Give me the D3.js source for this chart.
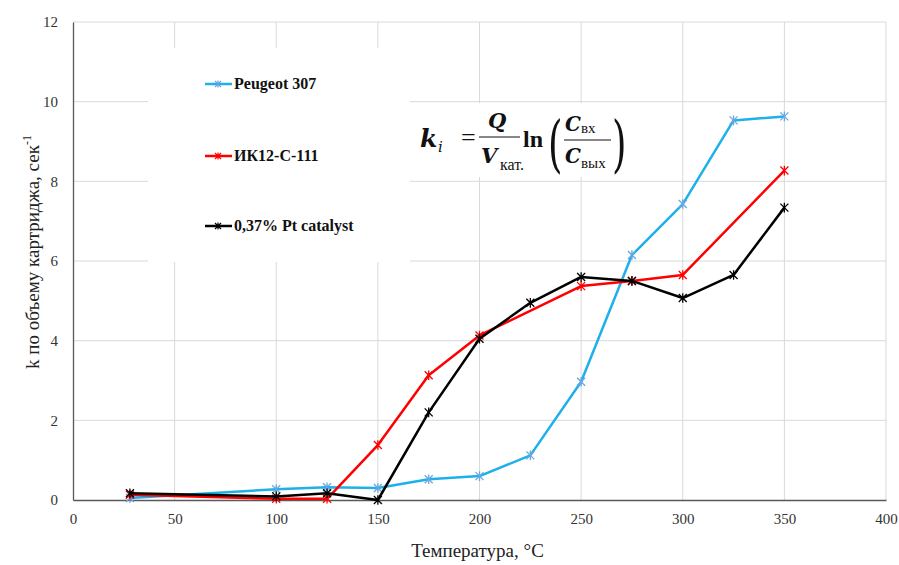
<!DOCTYPE html>
<html>
<head>
<meta charset="utf-8">
<script src="https://cdn.jsdelivr.net/npm/d3@7"></script>
<style>
  body { margin: 0; background: #fff; }
  svg { display: block; }
</style>
</head>
<body>
<svg id="chart"></svg>
<script>
// data
let temps = [28, 100, 125, 150, 175, 200, 225, 250, 275, 300, 325, 350]
let peugeot = [0.05, 0.27, 0.32, 0.3, 0.52, 0.6, 1.12, 2.97, 6.15, 7.43, 9.53, 9.63]
let redTemps = [28, 100, 125, 150, 175, 200, 250, 275, 300, 350]
let ik12 = [0.13, 0.03, 0.03, 1.38, 3.13, 4.13, 5.37, 5.5, 5.65, 8.27]
let platinum = [0.17, 0.09, 0.17, 0.0, 2.2, 4.05, 4.95, 5.6, 5.5, 5.07, 5.65, 7.34]
let xTicks = [0, 50, 100, 150, 200, 250, 300, 350, 400]
let yTicks = [0, 2, 4, 6, 8, 10, 12]
let seriesNames = ['Peugeot 307', 'ИК12-С-111', '0,37% Pt catalyst']

let width = 899
let height = 565
let plotLeft = 73, plotRight = 886, plotTop = 22, plotBottom = 500
let serif = "'Liberation Serif', 'Times New Roman', Times, 'DejaVu Serif', serif"

let series = [
  { name: seriesNames[0], xs: temps, ys: peugeot, line: '#1eb0ea', mark: '#6aa6e0' },
  { name: seriesNames[1], xs: redTemps, ys: ik12, line: '#ff0000', mark: '#ff0000' },
  { name: seriesNames[2], xs: temps, ys: platinum, line: '#000000', mark: '#000000' }
]

let svg = d3.select('#chart').attr('width', width).attr('height', height)
  .attr('font-family', serif)

let xScale = d3.scaleLinear().domain([0, 400]).range([plotLeft, plotRight])
let yScale = d3.scaleLinear().domain([0, 12]).range([plotBottom, plotTop])

// gridlines
svg.append('g').selectAll('line')
  .data(yTicks.filter(d => d > 0))
  .enter().append('line')
  .attr('x1', plotLeft).attr('x2', plotRight)
  .attr('y1', d => yScale(d)).attr('y2', d => yScale(d))
  .attr('stroke', '#d9d9d9').attr('stroke-width', 1)

svg.append('g').selectAll('line')
  .data(xTicks.filter(d => d > 0))
  .enter().append('line')
  .attr('x1', d => xScale(d)).attr('x2', d => xScale(d))
  .attr('y1', plotTop).attr('y2', plotBottom)
  .attr('stroke', '#d9d9d9').attr('stroke-width', 1)

// white boxes behind legend and formula
svg.append('rect').attr('x', 148).attr('y', 48).attr('width', 262).attr('height', 214).attr('fill', '#fff')
svg.append('rect').attr('x', 410).attr('y', 103).attr('width', 230).attr('height', 74).attr('fill', '#fff')

// axes
let xAxis = d3.axisBottom(xScale).tickValues(xTicks).tickSize(0).tickPadding(13)
let yAxis = d3.axisLeft(yScale).tickValues(yTicks).tickSize(0).tickPadding(15)

let gx = svg.append('g').attr('transform', 'translate(0,' + plotBottom + ')').call(xAxis)
let gy = svg.append('g').attr('transform', 'translate(' + plotLeft + ',0)').call(yAxis)

gx.select('.domain').attr('stroke', '#595959').attr('stroke-width', 1.3)
gy.select('.domain').attr('stroke', '#595959').attr('stroke-width', 1.3)
gx.attr('font-family', serif).attr('font-size', 15)
gy.attr('font-family', serif).attr('font-size', 15)
gx.selectAll('text').attr('fill', '#333')
gy.selectAll('text').attr('fill', '#333')

// axis titles
svg.append('text')
  .attr('x', (plotLeft + plotRight) / 2 - 2).attr('y', 557)
  .attr('text-anchor', 'middle').attr('font-size', 19).attr('fill', '#222')
  .text('Температура, °C')

let yt = svg.append('text')
  .attr('transform', 'translate(39,252) rotate(-90)')
  .attr('text-anchor', 'middle').attr('font-size', 19).attr('fill', '#222')
yt.append('tspan').text('k по объему картриджа, сек')
yt.append('tspan').attr('font-size', 12).attr('dy', -8).text('-1')

// star marker like the spreadsheet one
let starPath = s => {
  let p = d3.path()
  p.moveTo(-s, -s); p.lineTo(s, s)
  p.moveTo(-s, s); p.lineTo(s, -s)
  p.moveTo(0, -s * 1.2); p.lineTo(0, s * 1.2)
  return p.toString()
}

let line = d3.line().x(d => xScale(d[0])).y(d => yScale(d[1]))

series.forEach(s => {
  let pts = s.xs.map((x, i) => [x, s.ys[i]])
  svg.append('path')
    .datum(pts)
    .attr('d', line)
    .attr('fill', 'none')
    .attr('stroke', s.line)
    .attr('stroke-width', 2.5)
    .attr('stroke-linejoin', 'round')
  svg.append('g').selectAll('path')
    .data(pts)
    .enter().append('path')
    .attr('transform', d => 'translate(' + xScale(d[0]) + ',' + yScale(d[1]) + ')')
    .attr('d', starPath(4))
    .attr('stroke', s.mark)
    .attr('stroke-width', 1.3)
    .attr('fill', 'none')
})

// legend
let legendY = [84, 156, 226]
series.forEach((s, i) => {
  let g = svg.append('g').attr('transform', 'translate(0,' + legendY[i] + ')')
  g.append('line').attr('x1', 205).attr('x2', 232).attr('y1', 0).attr('y2', 0)
    .attr('stroke', s.line).attr('stroke-width', 2.5)
  g.append('path').attr('transform', 'translate(218,0)').attr('d', starPath(3))
    .attr('stroke', s.mark).attr('stroke-width', 1.2).attr('fill', 'none')
  g.append('text').attr('x', 234).attr('y', 5)
    .attr('font-size', 16).attr('font-weight', 'bold').attr('fill', '#111')
    .text(s.name)
})

// formula
let mathFont = "'DejaVu Serif', 'Liberation Serif', serif"
let f = svg.append('g').attr('fill', '#111').attr('font-weight', 'bold')
let ftxt = (x, y, size, str, italic) => f.append('text')
  .attr('x', x).attr('y', y).attr('font-size', size)
  .attr('font-style', italic ? 'italic' : 'normal')
  .attr('font-family', italic ? mathFont : serif)
  .text(str)

ftxt(420, 147, 25, 'k', true)
ftxt(438, 152, 15, 'i', true).attr('font-weight', 'normal')
ftxt(461, 146, 26, '=', false).attr('font-weight', 'normal')
ftxt(488, 128, 21, 'Q', true)
f.append('line').attr('x1', 479).attr('x2', 520).attr('y1', 137).attr('y2', 137).attr('stroke', '#111').attr('stroke-width', 1.2)
ftxt(481, 163, 21, 'V', true)
ftxt(500, 170, 16, 'кат.', false).attr('font-weight', 'normal')
ftxt(523, 147, 24, 'ln', false)
svg.append('text').attr('x', 548).attr('y', 165).attr('font-size', 62)
  .attr('transform', 'translate(548,165) scale(0.6,1) translate(-548,-165)')
  .attr('font-family', mathFont).attr('fill', '#111').text('(')
ftxt(565, 131, 20, 'C', true)
ftxt(581, 133, 15, 'вх', false).attr('font-weight', 'normal')
f.append('line').attr('x1', 564).attr('x2', 611).attr('y1', 140).attr('y2', 140).attr('stroke', '#111').attr('stroke-width', 1.2)
ftxt(565, 163, 20, 'C', true)
ftxt(581, 168, 15, 'вых', false).attr('font-weight', 'normal')
svg.append('text').attr('x', 612).attr('y', 165).attr('font-size', 62)
  .attr('transform', 'translate(612,165) scale(0.6,1) translate(-612,-165)')
  .attr('font-family', mathFont).attr('fill', '#111').text(')')
</script>
</body>
</html>
